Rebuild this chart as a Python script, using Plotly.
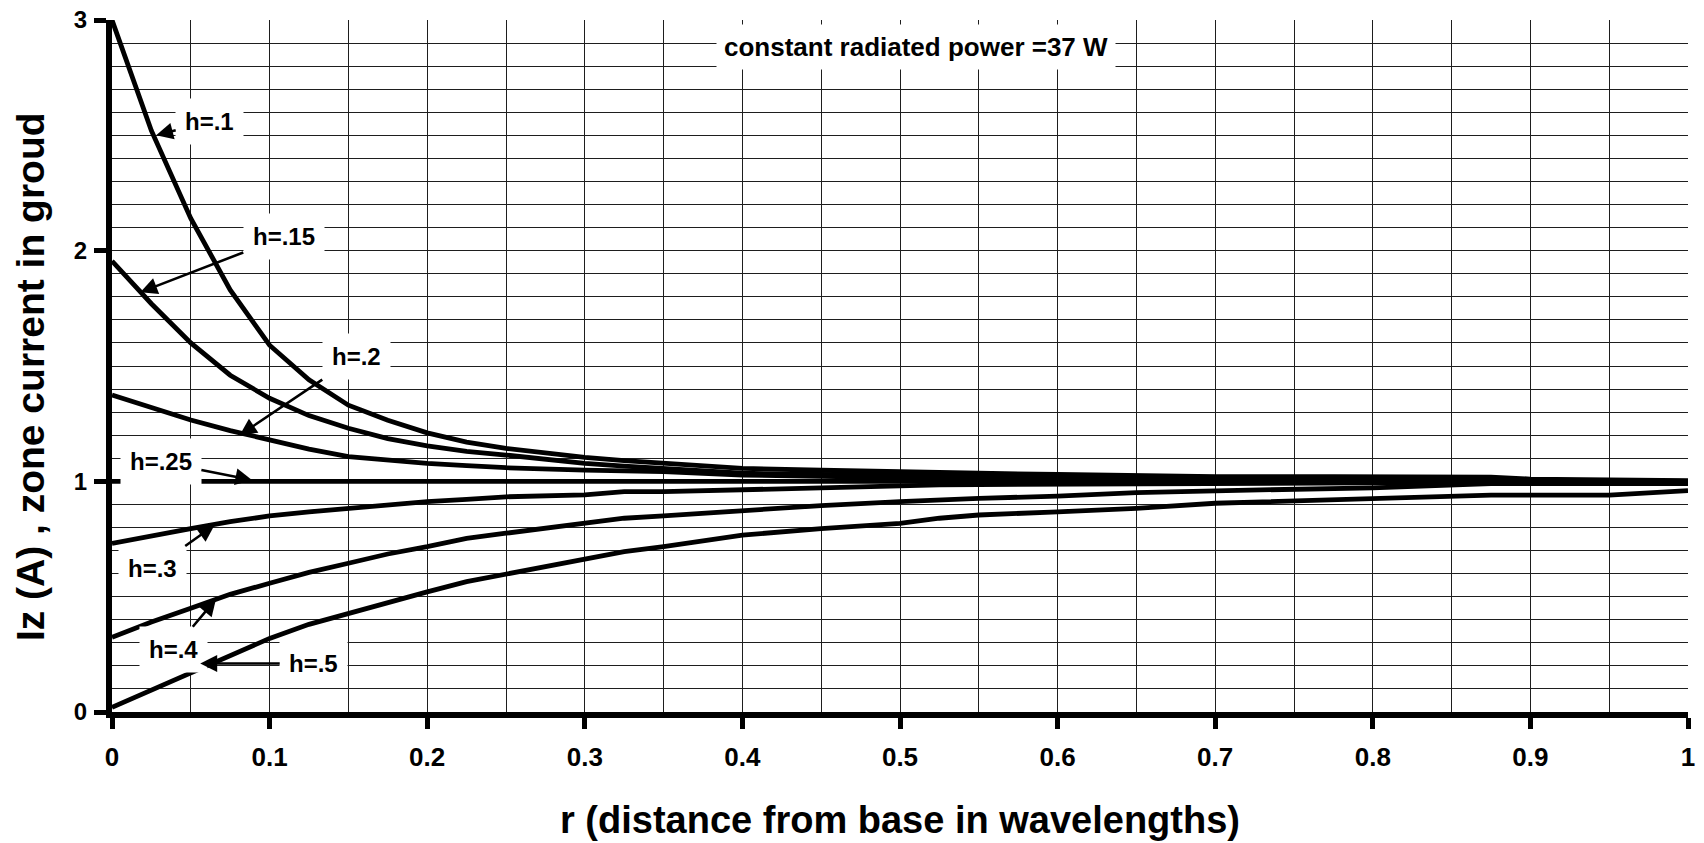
import plotly.graph_objects as go

# Distance from the antenna base, in wavelengths
r = [0, 0.025, 0.05, 0.075, 0.1, 0.125, 0.15, 0.175, 0.2, 0.225, 0.25, 0.3, 0.325,
     0.35, 0.4, 0.45, 0.5, 0.525, 0.55, 0.6, 0.65, 0.7, 0.775, 0.8, 0.875, 0.9, 0.95, 1.0]

# Zone current in the ground (A) for each antenna height h
iz_h010 = [3.0, 2.52, 2.14, 1.83, 1.59, 1.44, 1.33, 1.265, 1.21, 1.17, 1.143, 1.104, 1.09,
           1.078, 1.056, 1.048, 1.04, 1.037, 1.035, 1.03, 1.025, 1.02, 1.02, 1.02, 1.018, 1.01, 1.005, 1.003]
iz_h015 = [1.955, 1.77, 1.6, 1.46, 1.36, 1.285, 1.23, 1.185, 1.154, 1.13, 1.114, 1.078, 1.066,
           1.056, 1.035, 1.03, 1.025, 1.022, 1.02, 1.02, 1.017, 1.015, 1.012, 1.01, 1.01, 1.005, 1.003, 1.0]
iz_h020 = [1.374, 1.32, 1.266, 1.22, 1.179, 1.14, 1.107, 1.09, 1.078, 1.068, 1.059, 1.049, 1.045,
           1.042, 1.027, 1.02, 1.015, 1.013, 1.012, 1.01, 1.008, 1.005, 1.003, 1.003, 1.0, 1.0, 1.0, 1.0]
iz_h025 = [1.0, 1.0, 1.0, 1.0, 1.0, 1.0, 1.0, 1.0, 1.0, 1.0, 1.0, 1.0, 1.0,
           1.0, 1.0, 1.0, 1.0, 1.0, 1.0, 1.0, 1.0, 1.0, 1.0, 1.0, 1.0, 1.0, 1.0, 1.0]
iz_h030 = [0.731, 0.765, 0.795, 0.825, 0.85, 0.868, 0.883, 0.895, 0.912, 0.922, 0.933, 0.941, 0.955,
           0.955, 0.962, 0.97, 0.98, 0.985, 0.986, 0.99, 0.99, 0.99, 0.992, 0.993, 0.995, 0.995, 0.995, 0.995]
iz_h040 = [0.324, 0.39, 0.45, 0.51, 0.558, 0.605, 0.645, 0.685, 0.717, 0.753, 0.775, 0.818, 0.84,
           0.85, 0.873, 0.895, 0.912, 0.92, 0.926, 0.936, 0.951, 0.959, 0.97, 0.972, 0.99, 0.99, 0.99, 0.99]
iz_h050 = [0.02, 0.095, 0.168, 0.245, 0.319, 0.38, 0.428, 0.475, 0.521, 0.565, 0.598, 0.659, 0.695,
           0.717, 0.767, 0.795, 0.818, 0.84, 0.854, 0.868, 0.883, 0.905, 0.922, 0.924, 0.94, 0.94, 0.94, 0.96]

series = [
    ("h=.1", iz_h010),
    ("h=.15", iz_h015),
    ("h=.2", iz_h020),
    ("h=.25", iz_h025),
    ("h=.3", iz_h030),
    ("h=.4", iz_h040),
    ("h=.5", iz_h050),
]

# Curve labels: arrow tip on the curve (x, y), label centre (tx, ty)
label_names = ["h=.1", "h=.15", "h=.2", "h=.25", "h=.3", "h=.4", "h=.5"]
label_tip_x = [0.028, 0.018, 0.081, 0.089, 0.065, 0.066, 0.056]
label_tip_y = [2.50, 1.82, 1.20, 1.005, 0.81, 0.49, 0.21]
label_txt_x = [0.062, 0.109, 0.155, 0.031, 0.026, 0.039, 0.128]
label_txt_y = [2.56, 2.06, 1.54, 1.085, 0.62, 0.27, 0.21]

FONT = "Arial, Liberation Sans, sans-serif"

fig = go.Figure()
for name, vals in series:
    fig.add_trace(go.Scatter(
        x=r, y=vals, mode="lines", name=name,
        line=dict(color="black", width=4.8),
        showlegend=False, hoverinfo="skip",
    ))

for name, hx, hy, tx, ty in zip(label_names, label_tip_x, label_tip_y, label_txt_x, label_txt_y):
    fig.add_annotation(
        x=hx, y=hy, ax=tx, ay=ty, xref="x", yref="y", axref="x", ayref="y",
        text=name, showarrow=True, arrowhead=2, arrowsize=1.3, arrowwidth=2.6,
        arrowcolor="black", bgcolor="white", borderpad=9,
        font=dict(family=FONT, size=24, color="black", weight="bold"),
    )

fig.add_annotation(
    x=0.51, y=2.884, xref="x", yref="y", showarrow=False,
    text="constant radiated power =37 W", bgcolor="white", borderpad=7,
    font=dict(family=FONT, size=26, color="black", weight="bold"),
)

# Axis titles
fig.add_annotation(
    x=0.5, y=-0.156, xref="paper", yref="paper", xanchor="center", yanchor="middle",
    showarrow=False, text="r (distance from base in wavelengths)",
    font=dict(family=FONT, size=38, color="black", weight="bold"),
)
fig.add_annotation(
    x=-0.052, y=0.484, xref="paper", yref="paper", xanchor="center", yanchor="middle",
    showarrow=False, textangle=-90, text="Iz (A) , zone current in groud",
    font=dict(family=FONT, size=39, color="black", weight="bold"),
)

grid_color = "#1e1e1e"
fig.update_xaxes(
    range=[0, 1], tickmode="array", tickvals=[0, 0.1, 0.2, 0.3, 0.4, 0.5, 0.6, 0.7, 0.8, 0.9, 1],
    ticktext=["0", "0.1", "0.2", "0.3", "0.4", "0.5", "0.6", "0.7", "0.8", "0.9", "1"],
    showline=True, linecolor="black", linewidth=6,
    ticks="outside", ticklen=11, tickwidth=5, tickcolor="black",
    ticklabelstandoff=6, automargin=False,
    tickfont=dict(family=FONT, size=26, color="black", weight="bold"),
    showgrid=True, gridcolor=grid_color, gridwidth=1, zeroline=False,
    minor=dict(dtick=0.05, showgrid=True, gridcolor=grid_color, gridwidth=1, ticks=""),
)
fig.update_yaxes(
    range=[0, 3], tickmode="array", tickvals=[0, 1, 2, 3], ticktext=["0", "1", "2", "3"],
    showline=True, linecolor="black", linewidth=6,
    ticks="outside", ticklen=12, tickwidth=5, tickcolor="black",
    ticklabelposition="outside", ticklabelstandoff=2, automargin=False,
    tickfont=dict(family=FONT, size=24, color="black", weight="bold"),
    showgrid=True, gridcolor=grid_color, gridwidth=1, zeroline=False,
    minor=dict(dtick=0.1, showgrid=True, gridcolor=grid_color, gridwidth=1, ticks=""),
)

fig.update_layout(
    width=1704, height=843,
    margin=dict(l=112, r=16, t=20, b=131),
    paper_bgcolor="white", plot_bgcolor="white",
)

fig.write_html("out.html")
